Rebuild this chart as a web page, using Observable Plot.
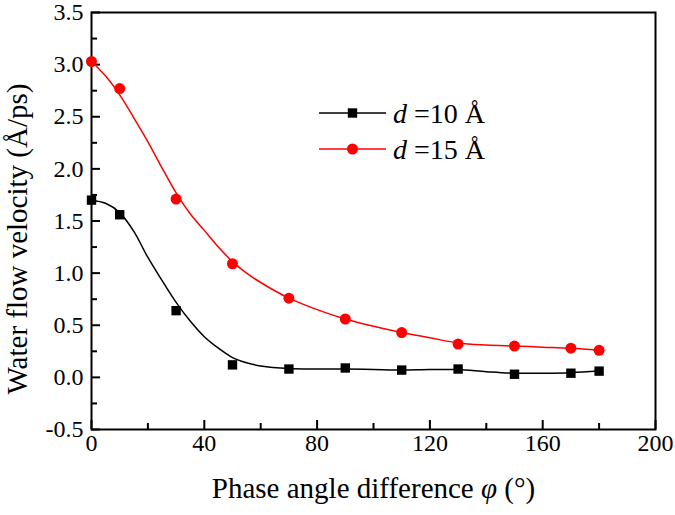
<!DOCTYPE html>
<html><head><meta charset="utf-8">
<script src="https://cdn.jsdelivr.net/npm/d3@7"></script>
<script src="https://cdn.jsdelivr.net/npm/@observablehq/plot@0.6"></script>
<style>
body{margin:0;background:#fff;}
#wrap{position:relative;width:675px;height:515px;}
</style></head><body><div id="wrap"></div>
<script>
// Measured data points
const angles = [0,10,30,50,70,90,110,130,150,170,180];
const d10 = [1.70,1.56,0.64,0.12,0.08,0.09,0.07,0.08,0.03,0.04,0.06];
const d15 = [3.03,2.77,1.71,1.09,0.76,0.56,0.43,0.32,0.30,0.28,0.26];
// Fitted curves
const fitAngles = [0,5,10,15,20,25,30,35,40,45,50,55,60,70,80,90,100,110,120,130,140,150,160,170,180];
const fit10 = [1.70,1.67,1.58,1.40,1.15,0.93,0.72,0.54,0.39,0.28,0.19,0.14,0.11,0.085,0.08,0.08,0.075,0.07,0.075,0.075,0.055,0.04,0.04,0.045,0.06];
const fit15 = [3.03,2.89,2.71,2.49,2.26,2.01,1.77,1.57,1.41,1.25,1.11,1.00,0.91,0.76,0.65,0.56,0.49,0.43,0.38,0.33,0.31,0.30,0.29,0.28,0.26];
// Ticks
const xMajor = [0,40,80,120,160,200];
const xMinor = [20,60,100,140,180];
const yMajor = [-0.5,0,0.5,1,1.5,2,2.5,3,3.5];
const yLabels = ["-0.5","0.0","0.5","1.0","1.5","2.0","2.5","3.0","3.5"];
const yMinor = [-0.25,0.25,0.75,1.25,1.75,2.25,2.75,3.25];
const xTitle = "Phase angle difference φ (°)";
const yTitle = "Water flow velocity (Å/ps)";
const seriesNames = ["=10 Å","=15 Å"];
const seriesColors = ["#000000","#ff0000"];

const pts = (vals) => angles.map((a,i)=>({a, v: vals[i]}));
const fit = (vals) => fitAngles.map((a,i)=>({a, v: vals[i]}));
const FONT = "'Liberation Serif','Times New Roman',serif";

const W = 675, H = 515, ML = 91, MR = 20, MT = 12, MB = 86;
const frameW = W - ML - MR, frameH = H - MT - MB;

const chart = Plot.plot({
  width: W, height: H,
  marginLeft: ML, marginRight: MR, marginTop: MT, marginBottom: MB,
  style: {fontFamily: FONT, background: "white", color: "black", overflow: "visible"},
  x: {domain: [0,200]},
  y: {domain: [-0.5,3.5]},
  marks: [
    Plot.axisX(xMajor, {tickSize: 0, tickPadding: 4, fontSize: 24, tickFormat: d => String(d), label: null}),
    Plot.axisY(yMajor, {tickSize: 0, tickPadding: 8, fontSize: 24, tickFormat: d => yLabels[yMajor.indexOf(d)], label: null}),
    Plot.tickX(xMajor, {x: d => d, insetTop: frameH - 9, stroke: "black", strokeWidth: 2}),
    Plot.tickX(xMinor, {x: d => d, insetTop: frameH - 6, stroke: "black", strokeWidth: 2}),
    Plot.tickY(yMajor, {y: d => d, insetRight: frameW - 9, stroke: "black", strokeWidth: 2}),
    Plot.tickY(yMinor, {y: d => d, insetRight: frameW - 6, stroke: "black", strokeWidth: 2}),
    Plot.frame({strokeWidth: 2}),
    Plot.line(fit(fit10), {x: "a", y: "v", curve: "catmull-rom", stroke: seriesColors[0], strokeWidth: 1.5}),
    Plot.line(fit(fit15), {x: "a", y: "v", curve: "catmull-rom", stroke: seriesColors[1], strokeWidth: 1.5}),
    Plot.dot(pts(d10), {x: "a", y: "v", symbol: "square", r: 5.3, fill: seriesColors[0], stroke: null}),
    Plot.dot(pts(d15), {x: "a", y: "v", symbol: "circle", r: 5.5, fill: seriesColors[1], stroke: null}),
    Plot.text([xTitle], {text: d => d, frameAnchor: "bottom", dy: 59, fontSize: 29, lineAnchor: "middle", className: "xtitle"})
  ]
});
document.getElementById("wrap").appendChild(chart);

const svg = d3.select(chart);
// italic phi in x title
svg.selectAll(".xtitle text").each(function(){
  const t = d3.select(this);
  const parts = xTitle.split("φ");
  t.text(null);
  t.append("tspan").text(parts[0]);
  t.append("tspan").attr("font-style","italic").text("φ");
  t.append("tspan").text(parts[1]);
});

// y title
svg.append("text")
  .attr("transform", "translate(17,239) rotate(-90)")
  .attr("text-anchor", "middle").attr("dy", "0.35em")
  .attr("font-family", FONT).attr("font-size", 29).attr("fill", "black")
  .text(yTitle);

// legend
const lg = svg.append("g").attr("font-family", FONT).attr("font-size", 28).attr("text-anchor", "start");
seriesNames.forEach((name, i) => {
  const y = 113 + i*36;
  const g = lg.append("g").attr("transform", `translate(0,${y})`);
  g.append("line").attr("x1",319).attr("x2",386).attr("y1",0).attr("y2",0).attr("stroke",seriesColors[i]).attr("stroke-width",1.5);
  if (i === 0) g.append("rect").attr("x",352.5-4.7).attr("y",-4.7).attr("width",9.4).attr("height",9.4).attr("fill",seriesColors[i]);
  else g.append("circle").attr("cx",352.5).attr("cy",0).attr("r",5.5).attr("fill",seriesColors[i]);
  const t = g.append("text").attr("x",393).attr("y",0).attr("dy","0.35em").attr("fill","black");
  t.append("tspan").attr("font-style","italic").text("d");
  t.append("tspan").text(" " + name);
});
</script>
</body></html>
